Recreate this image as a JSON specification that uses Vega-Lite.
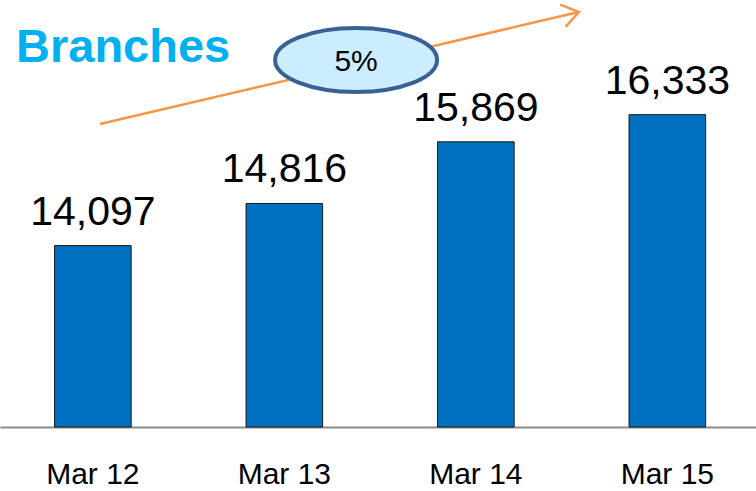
{
  "$schema": "https://vega.github.io/schema/vega-lite/v6.json",
  "width": 756,
  "height": 427,
  "autosize": {"type": "none"},
  "padding": {"left": 0, "top": 0, "right": 0, "bottom": 64},
  "background": "white",
  "config": {
    "view": {"stroke": null},
    "font": "Liberation Sans"
  },
  "datasets": {
    "bars": [
      {"period": "Mar 12", "branches": 14097},
      {"period": "Mar 13", "branches": 14816},
      {"period": "Mar 14", "branches": 15869},
      {"period": "Mar 15", "branches": 16333}
    ],
    "annot": [
      {"kind": "arrow", "ax": 0.529, "ay": 16173},
      {"kind": "arrow", "ax": 3.063, "ay": 18085},
      {"kind": "head", "ax": 3.063, "ay": 18085},
      {"kind": "bubble", "ax": 1.884, "ay": 17266, "label": "5%"},
      {"kind": "title", "ax": 0.0847, "ay": 17232, "label": "Branches"}
    ]
  },
  "layer": [
    {
      "data": {"name": "bars"},
      "layer": [
        {
          "mark": {"type": "bar", "color": "#0070C0", "stroke": "#1a1a1a", "strokeWidth": 1},
          "encoding": {
            "x": {
              "field": "period",
              "type": "nominal",
              "sort": null,
              "scale": {"paddingInner": 0.6, "paddingOuter": 0.274, "align": 0.52},
              "axis": {
                "title": null,
                "labelAngle": 0,
                "ticks": false,
                "tickSize": 0,
                "labelPadding": 56,
                "labelBaseline": "alphabetic",
                "labelFontSize": 30,
                "labelFont": "Liberation Sans",
                "labelColor": "#000000",
                "domainColor": "#8c8c8c",
                "domainWidth": 2,
                "grid": false
              }
            },
            "y": {
              "field": "branches",
              "type": "quantitative",
              "scale": {"domain": [11000, 18290], "zero": false, "nice": false},
              "axis": null
            },
            "y2": {"datum": 11000}
          }
        },
        {
          "mark": {"type": "text", "fontSize": 41, "baseline": "alphabetic", "dy": -21, "color": "#000000", "font": "Liberation Sans"},
          "encoding": {
            "x": {"field": "period", "type": "nominal", "sort": null},
            "y": {"field": "branches", "type": "quantitative"},
            "text": {"field": "branches", "type": "quantitative", "format": ","}
          }
        }
      ]
    },
    {
      "data": {"name": "annot"},
      "layer": [
        {
          "transform": [{"filter": "datum.kind === 'arrow'"}],
          "mark": {"type": "line", "color": "#F79646", "strokeWidth": 2.5},
          "encoding": {
            "x": {"field": "ax", "type": "quantitative", "scale": {"domain": [0, 4], "nice": false, "zero": false}, "axis": null},
            "y": {"field": "ay", "type": "quantitative"}
          }
        },
        {
          "transform": [{"filter": "datum.kind === 'head'"}],
          "mark": {
            "type": "point",
            "shape": "M -1 -0.7 L 0 0 L -1 0.7",
            "filled": false,
            "stroke": "#F79646",
            "strokeWidth": 2.5,
            "size": 1080,
            "angle": -13.2,
            "opacity": 1
          },
          "encoding": {
            "x": {"field": "ax", "type": "quantitative"},
            "y": {"field": "ay", "type": "quantitative"}
          }
        },
        {
          "transform": [{"filter": "datum.kind === 'bubble'"}],
          "mark": {
            "type": "point",
            "shape": "M -1 0 A 1 0.395 0 1 1 1 0 A 1 0.395 0 1 1 -1 0 Z",
            "filled": true,
            "fill": "#CCECFF",
            "stroke": "#3A6194",
            "strokeWidth": 4,
            "size": 26244,
            "opacity": 1,
            "fillOpacity": 1,
            "strokeOpacity": 1
          },
          "encoding": {
            "x": {"field": "ax", "type": "quantitative"},
            "y": {"field": "ay", "type": "quantitative"}
          }
        },
        {
          "transform": [{"filter": "datum.kind === 'bubble'"}],
          "mark": {"type": "text", "fontSize": 30, "baseline": "middle", "dy": 2, "color": "#000000", "font": "Liberation Sans"},
          "encoding": {
            "x": {"field": "ax", "type": "quantitative"},
            "y": {"field": "ay", "type": "quantitative"},
            "text": {"field": "label"}
          }
        },
        {
          "transform": [{"filter": "datum.kind === 'title'"}],
          "mark": {"type": "text", "fontSize": 47, "fontWeight": "bold", "align": "left", "baseline": "alphabetic", "color": "#00B0F0", "font": "Liberation Sans"},
          "encoding": {
            "x": {"field": "ax", "type": "quantitative"},
            "y": {"field": "ay", "type": "quantitative"},
            "text": {"field": "label"}
          }
        }
      ]
    }
  ],
  "resolve": {"scale": {"x": "independent"}}
}
